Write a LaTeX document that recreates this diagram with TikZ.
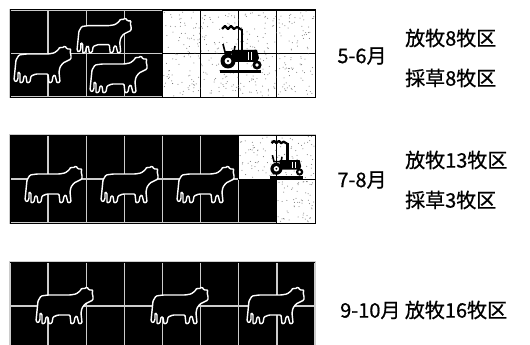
\documentclass[tikz,border=0pt]{standalone}
\usepackage{fontspec}
\newfontfamily\cjk[FakeBold=0.8]{Noto Sans CJK SC}
\usetikzlibrary{positioning}

\tikzset{
  grazed/.style={fill=black, draw=white!80!black, line width=1.4pt},
  mowed/.style={fill=white, draw=black, line width=0.9pt},
  speck/.style={fill=black!55},
  monthtext/.style={font=\cjk\fontsize{20}{22}\selectfont, inner sep=0pt},
  usetext/.style={font=\cjk\fontsize{20}{22}\selectfont, inner sep=0pt, anchor=west},
  % white-rimmed cow, origin at top left, head to the right
  cow/.pic={
    \filldraw[fill=black, draw=white, line width=1.4pt, rounded corners=1pt]
      (5,9) -- (12,8) -- (34,8) -- (40,7) -- (44,4) -- (46,1) -- (48,2) -- (51,0)
      -- (53,3) -- (57,3) -- (56,6) -- (57,9) -- (57,13) -- (53,15) -- (49,17)
      -- (46,21) -- (45,26) -- (46,36) -- (43,37) -- (41,29) -- (39,30) -- (38,36)
      -- (35,37) -- (34,28) -- (22,28) -- (17,30) -- (16,36) -- (13,37) -- (12,30)
      -- (10,30) -- (9,36) -- (6,37) -- (6,27) -- (4,26) -- (4,33) -- (2,36)
      -- (0,34) -- (1,24) -- (2,14) -- cycle;
  },
  % tractor icon, origin at top left
  tractor/.pic={
    \draw[line width=2.2pt, line join=round]
      (2,4) -- (5,1) -- (8,4) -- (11,1) -- (14,4) -- (17,2) -- (22,5);
    \draw[line width=2.4pt] (22,4) -- (22,26);
    \draw[line width=1.6pt] (3,19) -- (5,27) -- (14,27) -- (15,21);
    \fill (12,25) -- (37,25) -- (39,33) -- (37,37) -- (12,37) -- cycle;
    \draw[white, line width=0.6pt] (28,27) -- (28,35) (31,27) -- (31,35);
    \fill (8,36) circle (7.5pt);
    \fill[white] (8,36) circle (3.4pt);
    \fill (8,36) circle (1.2pt);
    \fill (37,40) circle (4.6pt);
    \fill[white] (37,40) circle (1.8pt);
    \draw[line width=2.6pt] (0,46.5) -- (41,46.5);
  }
}

\begin{document}
\begin{tikzpicture}[x=1pt, y=-1pt]
  \clip (0,0) rectangle (530,345);
  \fill[white] (0,0) rectangle (530,345);

  % --- MAY-JUNE: 8 grazed, 8 mowed ---
  \foreach \c in {0,...,3}
    \foreach \r in {0,1}{
      \pgfmathsetmacro\xa{10+38.125*\c}
      \pgfmathsetmacro\ya{10+43.5*\r}
      \draw[grazed] (\xa,\ya) rectangle ++(38.125,43.5);
    }
  \foreach \c in {4,...,7}
    \foreach \r in {0,1}{
      \pgfmathsetmacro\xa{10+38.125*\c}
      \pgfmathsetmacro\ya{10+43.5*\r}
      \draw[mowed] (\xa,\ya) rectangle ++(38.125,43.5);
    }
  \pgfmathsetseed{17}
  \foreach \i in {1,...,380}{
    \pgfmathsetmacro\sx{163+151*rnd}
    \pgfmathsetmacro\sy{11+85*rnd}
    \fill[speck] (\sx,\sy) circle (0.5pt);
  }
  \draw[black, line width=1pt] (10,10) rectangle (315,97);

  \pic (cowA) at (77,18) [scale=0.95] {cow};
  \pic (cowB) at (14,46) {cow};
  \pic (cowC) at (90,56) {cow};
  \pic (tracA) at (220,25) {tractor};

  % --- JULY-AUGUST: 13 grazed, 3 mowed ---
  \foreach \c in {0,...,7}
    \foreach \r in {0,1}{
      \pgfmathsetmacro\xa{10+38.125*\c}
      \pgfmathsetmacro\ya{135+44*\r}
      \draw[grazed] (\xa,\ya) rectangle ++(38.125,44);
    }
  \draw[mowed] (238.75,135) rectangle ++(38.125,44);
  \draw[mowed] (276.875,135) rectangle ++(38.125,44);
  \draw[mowed] (276.875,179) rectangle ++(38.125,44);
  \foreach \i in {1,...,110}{
    \pgfmathsetmacro\sx{240+74*rnd}
    \pgfmathsetmacro\sy{136+42*rnd}
    \fill[speck] (\sx,\sy) circle (0.5pt);
  }
  \foreach \i in {1,...,60}{
    \pgfmathsetmacro\sx{278+36*rnd}
    \pgfmathsetmacro\sy{180+42*rnd}
    \fill[speck] (\sx,\sy) circle (0.5pt);
  }
  \draw[black, line width=1pt] (10,135) rectangle (315,223);

  \pic (cowD) at (25,166) {cow};
  \pic (cowE) at (101,166) {cow};
  \pic (cowF) at (177,166) {cow};
  \pic (tracB) at (270,140) [scale=0.8] {tractor};

  % --- SEPTEMBER-OCTOBER: all 16 grazed ---
  \foreach \c in {0,...,7}
    \foreach \r in {0,1}{
      \pgfmathsetmacro\xa{10+38.125*\c}
      \pgfmathsetmacro\ya{262+44*\r}
      \draw[grazed] (\xa,\ya) rectangle ++(38.125,44);
    }
  \draw[black, line width=1pt] (10,262) -- (315,262);

  \pic (cowG) at (36,287) {cow};
  \pic (cowH) at (151,287) {cow};
  \pic (cowI) at (247,287) {cow};

  % --- labels ---
  \node[monthtext] (mayjun) at (362,56) {5-6月};
  \node[usetext] (grazeA) at (405,38) {放牧8牧区};
  \node[usetext] (mowA) at (405,78) {採草8牧区};

  \node[monthtext] (julaug) at (362,180) {7-8月};
  \node[usetext] (grazeB) at (405,160) {放牧13牧区};
  \node[usetext] (mowB) at (405,200) {採草3牧区};

  \node[usetext] (sepoct) at (340,310) {9-10月 放牧16牧区};
\end{tikzpicture}
\end{document}
